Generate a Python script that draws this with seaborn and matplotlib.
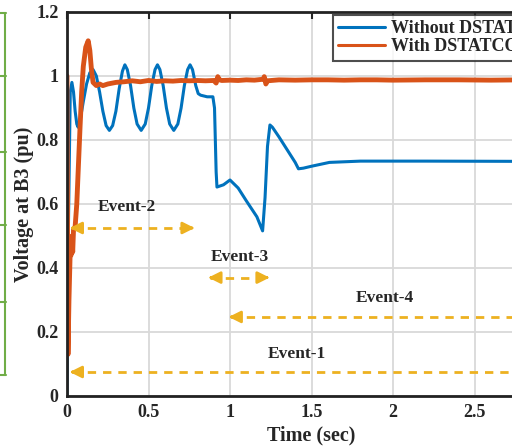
import matplotlib
matplotlib.use("Agg")
import matplotlib.pyplot as plt
import seaborn as sns
import pandas as pd

# Without DSTATCOM (blue)
t_wo = [0.0, 0.008, 0.02, 0.03, 0.04, 0.05, 0.06, 0.068, 0.08, 0.10, 0.12, 0.14,
        0.16, 0.18, 0.20, 0.22, 0.24, 0.26, 0.28, 0.30, 0.32, 0.34, 0.355, 0.37,
        0.39, 0.41, 0.43, 0.455, 0.48, 0.50, 0.52, 0.54, 0.555, 0.57, 0.59, 0.61,
        0.63, 0.655, 0.68, 0.70, 0.72, 0.74, 0.755, 0.77, 0.79, 0.805, 0.82, 0.86,
        0.895, 0.905, 0.915, 0.92, 0.96, 1.0, 1.05, 1.10, 1.165, 1.20, 1.215, 1.23,
        1.245, 1.26, 1.30, 1.35, 1.40, 1.42, 1.45, 1.5, 1.61, 1.8, 2.2, 3.0]
v_wo = [0.0, 0.5, 0.95, 0.98, 0.95, 0.89, 0.85, 0.84, 0.86, 0.92, 0.975, 1.01,
        1.02, 1.0, 0.95, 0.89, 0.845, 0.83, 0.845, 0.89, 0.96, 1.015, 1.035, 1.02,
        0.97, 0.90, 0.85, 0.83, 0.85, 0.90, 0.97, 1.02, 1.035, 1.02, 0.97, 0.90,
        0.85, 0.83, 0.85, 0.90, 0.97, 1.02, 1.035, 1.02, 0.97, 0.945, 0.94, 0.935,
        0.935, 0.90, 0.70, 0.653, 0.66, 0.675, 0.65, 0.61, 0.56, 0.516, 0.62, 0.78,
        0.847, 0.84, 0.81, 0.77, 0.73, 0.71, 0.712, 0.718, 0.73, 0.734, 0.734, 0.733]

# With DSTATCOM (orange)
t_w = [0.0, 0.003, 0.006, 0.012, 0.02, 0.025, 0.03, 0.035, 0.04, 0.05, 0.06, 0.07,
       0.08, 0.09, 0.10, 0.115, 0.13, 0.14, 0.15, 0.16, 0.18, 0.2, 0.22, 0.25, 0.3,
       0.35, 0.4, 0.45, 0.5, 0.55, 0.6, 0.65, 0.7, 0.75, 0.8, 0.85, 0.9, 0.915,
       0.925, 0.935, 0.95, 1.0, 1.05, 1.1, 1.15, 1.205, 1.21, 1.22, 1.23, 1.3, 1.4,
       1.5, 1.6, 1.7, 1.8, 1.9, 2.0, 2.2, 2.4, 2.6, 2.8, 3.0]
v_w = [1.0, 0.6, 0.13, 0.3, 0.46, 0.44, 0.50, 0.45, 0.52, 0.53, 0.6, 0.72,
       0.84, 0.95, 1.03, 1.09, 1.11, 1.08, 1.02, 0.98, 0.97, 0.975, 0.97, 0.975, 0.98,
       0.982, 0.985, 0.982, 0.986, 0.983, 0.985, 0.984, 0.986, 0.985, 0.986, 0.985, 0.986, 0.978,
       0.998, 0.988, 0.986, 0.987, 0.986, 0.988, 0.987, 0.99, 0.998, 0.975, 0.985, 0.988, 0.987,
       0.988, 0.988, 0.987, 0.988, 0.988, 0.987, 0.988, 0.988, 0.987, 0.988, 0.988]

# Event arrows
ev_names = ["Event-2", "Event-3", "Event-4", "Event-1"]
ev_start = [0.0, 0.85, 0.975, 0.0]
ev_end = [0.80, 1.26, 3.0, 3.0]
ev_y = [0.525, 0.37, 0.247, 0.075]
ev_lx = [0.37, 1.06, 1.95, 1.41]
ev_ly = [0.59, 0.435, 0.305, 0.13]
ev_right_head = [True, True, False, False]

df = pd.concat([
    pd.DataFrame({"t": t_wo, "v": v_wo, "case": "Without DSTATCOM"}),
    pd.DataFrame({"t": t_w, "v": v_w, "case": "With DSTATCOM"}),
])

sns.set_style("white")
plt.rcParams["font.family"] = ["Liberation Serif", "DejaVu Serif"]
plt.rcParams["font.weight"] = "bold"

fig = plt.figure(figsize=(5.12, 4.46), dpi=100)
ax = fig.add_axes([67 / 512, 1 - 396 / 446, 489 / 512, 384 / 446])

# cut-off table from the neighbouring figure on the left
for yy in [13, 76, 152, 225, 302, 375]:
    fig.add_artist(plt.Line2D([0, 6 / 512], [1 - yy / 446] * 2, color="#70ad47", lw=1.5))
fig.add_artist(plt.Line2D([5 / 512] * 2, [1 - 13 / 446, 1 - 375 / 446], color="#70ad47", lw=1.5))

sns.lineplot(data=df, x="t", y="v", hue="case", estimator=None, sort=False,
             palette={"Without DSTATCOM": "#0072BD", "With DSTATCOM": "#D95319"},
             linewidth=2.2, ax=ax)
ax.lines[1].set_linewidth(3.5)

ev_color = "#EDB120"
head = "-|>,head_length=0.7,head_width=0.35"
for name, s, e, y, lx, ly, rh in zip(ev_names, ev_start, ev_end, ev_y, ev_lx, ev_ly, ev_right_head):
    ax.plot([s + 0.03, e - (0.03 if rh else 0)], [y, y], ls=(0, (3, 2.5)), color=ev_color, lw=2)
    ax.annotate("", xy=(s, y), xytext=(s + 0.06, y),
                arrowprops=dict(arrowstyle=head, color=ev_color, lw=2))
    if rh:
        ax.annotate("", xy=(e, y), xytext=(e - 0.06, y),
                    arrowprops=dict(arrowstyle=head, color=ev_color, lw=2))
    ax.text(lx, ly, name, ha="center", va="center", fontsize=12.5, fontweight="bold")

ax.set_xlim(0, 3)
ax.set_ylim(0, 1.2)
ax.set_xticks([0, 0.5, 1, 1.5, 2, 2.5, 3])
ax.set_xticklabels(["0", "0.5", "1", "1.5", "2", "2.5", ""])
ax.set_yticks([0, 0.2, 0.4, 0.6, 0.8, 1.0, 1.2])
ax.set_yticklabels(["0", "0.2", "0.4", "0.6", "0.8", "1", "1.2"])
ax.grid(True, color="#d9d9d9", lw=1.3)
ax.tick_params(direction="in", length=5, width=1.5, top=True, right=True, labelsize=13, pad=6)
for lab in ax.get_xticklabels() + ax.get_yticklabels():
    lab.set_fontweight("bold")
for sp in ax.spines.values():
    sp.set_linewidth(2)
    sp.set_color("#222222")
ax.set_xlabel("Time (sec)", fontsize=14.5, fontweight="bold", labelpad=3)
ax.set_ylabel("Voltage at B3 (pu)", fontsize=14.5, fontweight="bold", labelpad=2)

leg = ax.legend(loc="upper left", bbox_to_anchor=(333 / 512, 1 - 15 / 446),
                bbox_transform=fig.transFigure, fontsize=13, frameon=True,
                fancybox=False, edgecolor="#222222", borderaxespad=0,
                handlelength=2.6, handletextpad=0.3, labelspacing=0.05, borderpad=0.3)
leg.get_frame().set_linewidth(1.5)
for txt in leg.get_texts():
    txt.set_fontweight("bold")

fig.savefig("out.png", dpi=100)
